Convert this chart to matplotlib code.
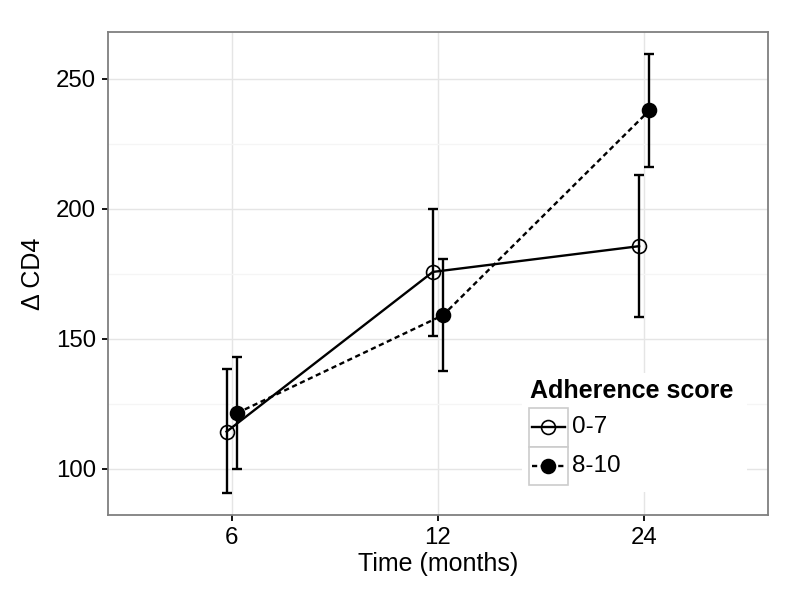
import matplotlib
matplotlib.use("Agg")
import matplotlib.pyplot as plt
import numpy as np
from matplotlib.lines import Line2D
from matplotlib.patches import Rectangle

plt.rcParams["font.family"] = ["Liberation Sans", "DejaVu Sans"]

# data
times = ["6", "12", "24"]
groups = ["0-7", "8-10"]
mean_low = [114.3, 175.7, 185.6]
lower_low = [90.7, 151.2, 158.5]
upper_low = [138.3, 199.8, 212.9]
mean_high = [121.4, 159.1, 237.8]
lower_high = [100.0, 137.7, 216.0]
upper_high = [142.9, 180.6, 259.6]

dodge = 0.025
lw = 1.7
grid_major = "#E5E5E5"
grid_minor = "#F5F5F5"
border = "#7F7F7F"
dotted = (0, (2.2, 1.5))

fig = plt.figure(figsize=(8, 6), dpi=100)
ax = fig.add_axes([108 / 800, 1 - 515 / 600, 660 / 800, (515 - 31.7) / 600])

x = np.arange(1, len(times) + 1)

series = [
    (x - dodge, mean_low, lower_low, upper_low, "-", "none"),
    (x + dodge, mean_high, lower_high, upper_high, dotted, "black"),
]
for xs, m, lo, hi, ls, face in series:
    m = np.array(m)
    yerr = [m - np.array(lo), np.array(hi) - m]
    ax.errorbar(xs, m, yerr=yerr, fmt="none", ecolor="black", elinewidth=lw,
                capsize=3.6, capthick=lw, zorder=3)
    ax.plot(xs, m, color="black", linestyle=ls, linewidth=lw, zorder=4)
    ax.plot(xs, m, linestyle="none", marker="o", markersize=10,
            markerfacecolor=face, markeredgecolor="black", markeredgewidth=1.2, zorder=5)

# scales (ggplot-like expansion)
all_lo = min(lower_low + lower_high)
all_hi = max(upper_low + upper_high)
pad = 0.05 * (all_hi - all_lo)
ax.set_ylim(all_lo - pad, all_hi + pad)
ax.set_xlim(0.4, len(times) + 0.6)
ax.set_xticks(x)
ax.set_xticklabels(times)
ax.set_yticks([100, 150, 200, 250])
ax.set_yticks([125, 175, 225], minor=True)

ax.grid(True, which="major", color=grid_major, linewidth=1.0, zorder=0)
ax.grid(True, which="minor", axis="y", color=grid_minor, linewidth=1.0, zorder=0)
ax.set_axisbelow(True)
for sp in ax.spines.values():
    sp.set_color(border)
    sp.set_linewidth(1.3)

ax.tick_params(which="major", length=4.5, width=1.3, color="black",
               labelsize=17.3, labelcolor="black", pad=4)
ax.tick_params(which="minor", length=0)

ax.set_xlabel("Time (months)", fontsize=18, labelpad=2)
ax.set_ylabel("Δ CD4", fontsize=18, labelpad=8)


# legend drawn by hand in figure pixels
def fp(px, py):
    return px / 800, 1 - py / 600


bx0, by0 = fp(522, 492)
bx1, by1 = fp(747, 373)
fig.add_artist(Rectangle((bx0, by0), bx1 - bx0, by1 - by0, transform=fig.transFigure,
                         facecolor="white", edgecolor="none", zorder=6))
tx, ty = fp(530, 391)
fig.text(tx, ty, "Adherence score", fontsize=18, fontweight="bold",
         ha="left", va="center", zorder=7)

key_styles = [("-", "none"), (dotted, "black")]
for i, (label, (ls, face)) in enumerate(zip(groups, key_styles)):
    top = 408 + i * 38.5
    kx0, ky0 = fp(528.5, top + 38.5)
    kx1, ky1 = fp(568, top)
    fig.add_artist(Rectangle((kx0, ky0), kx1 - kx0, ky1 - ky0, transform=fig.transFigure,
                             facecolor="white", edgecolor="#CCCCCC", linewidth=1.2, zorder=7))
    cy = top + 19.25
    lx0, ly = fp(532, cy)
    lx1, _ = fp(565, cy)
    mx, _ = fp(548.3, cy)
    fig.add_artist(Line2D([lx0, lx1], [ly, ly], transform=fig.transFigure, color="black",
                          linestyle=ls, linewidth=lw, zorder=8))
    fig.add_artist(Line2D([mx], [ly], transform=fig.transFigure, linestyle="none", marker="o",
                          markersize=10, markerfacecolor=face, markeredgecolor="black",
                          markeredgewidth=1.2, zorder=9))
    labx, _ = fp(572, cy)
    fig.text(labx, ly, label, fontsize=17.5, ha="left", va="center", zorder=9)

fig.savefig("out.png", dpi=100)
